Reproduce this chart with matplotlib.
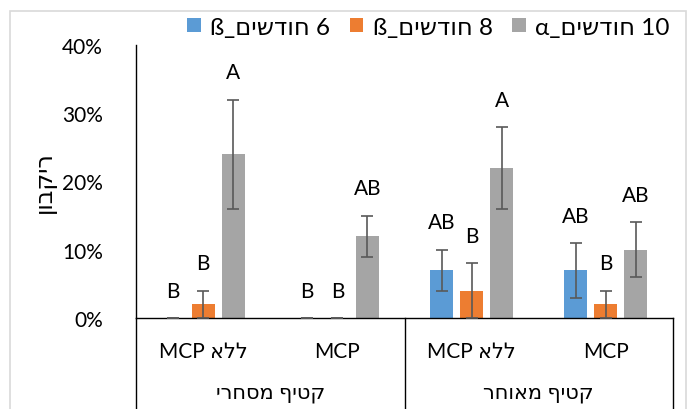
import numpy as np
import matplotlib
matplotlib.use("Agg")
import matplotlib.pyplot as plt
from matplotlib.patches import Rectangle
from matplotlib.lines import Line2D
import matplotlib.transforms as mtransforms

plt.rcParams['font.family'] = ['Lato', 'DejaVu Sans']

# Hebrew strings are stored in visual (left-to-right) order
categories = ["MCP אלל", "MCP", "MCP אלל", "MCP"]
groups = ["ירחסמ ףיטק", "רחואמ ףיטק"]
series_names = ["ß_םישדוח 6", "ß_םישדוח 8", "α_םישדוח 10"]

val_6b = [0.00, 0.00, 0.07, 0.07]
err_6b = [0.00, 0.00, 0.03, 0.04]
val_8b = [0.02, 0.00, 0.04, 0.02]
err_8b = [0.02, 0.00, 0.04, 0.02]
val_10a = [0.24, 0.12, 0.22, 0.10]
err_10a = [0.08, 0.03, 0.06, 0.04]

letters_6b = ["B", "B", "AB", "AB"]
letters_8b = ["B", "B", "B", "B"]
letters_10a = ["A", "AB", "A", "AB"]

y_ticks = [0, 0.1, 0.2, 0.3, 0.4]
y_label = "ןובקיר"

colors = ['#5B9BD5', '#ED7D31', '#A5A5A5']

fig = plt.figure(figsize=(6.9, 4.1), dpi=100)
ax = fig.add_axes([136/690, 1 - 319/410, (673 - 136)/690, (319 - 46)/410])

x = np.arange(len(categories))
step = 0.224
width = 0.172
series = [(val_6b, err_6b, letters_6b), (val_8b, err_8b, letters_8b), (val_10a, err_10a, letters_10a)]
for i, (vals, errs, lets) in enumerate(series):
    xs = x + (i - 1) * step
    ax.bar(xs, vals, width, color=colors[i], label=series_names[i], zorder=2)
    ax.errorbar(xs, vals, yerr=errs, fmt='none', ecolor='#595959', elinewidth=1.2,
                capsize=4.3, capthick=1.2, zorder=3)
    for xx, v, e, l in zip(xs, vals, errs, lets):
        ax.text(xx, v + e + 0.04, l, ha='center', va='center', fontsize=15, color='black')

ax.set_xlim(-0.5, 3.5)
ax.set_ylim(0, 0.4)
ax.set_yticks(y_ticks)
ax.set_yticklabels([f"{int(round(t*100))}%" for t in y_ticks], fontsize=15)
ax.tick_params(axis='y', length=0, pad=24)
ax.set_xticks([])
for s in ['top', 'right']:
    ax.spines[s].set_visible(False)
ax.spines['left'].set_color('black')
ax.spines['bottom'].set_color('black')
ax.spines['left'].set_linewidth(1.0)
ax.spines['bottom'].set_linewidth(1.0)

ax.set_ylabel(y_label, fontsize=17, labelpad=4, family=['DejaVu Sans'])

# multi-level category axis
trans = mtransforms.blended_transform_factory(ax.transData, ax.transAxes)
for xx, c in zip(x, categories):
    ax.text(xx, -0.12, c, transform=trans, ha='center', va='center', fontsize=15)
for gi, g in enumerate(groups):
    ax.text(gi * 2 + 0.5, -0.27, g, transform=trans, ha='center', va='center', fontsize=15)
for xx in [-0.5, 1.5, 3.5]:
    ax.add_line(Line2D([xx, xx], [0, -0.4], transform=trans, color='black', lw=1.0, clip_on=False))

# legend
fig.legend(loc='center right', bbox_to_anchor=(682/690, 1 - 28/410), ncol=3, frameon=False,
           fontsize=17.5, handlelength=0.55, handleheight=0.55, handletextpad=0.4,
           columnspacing=0.8, borderpad=0)

# outer chart border
fig.add_artist(Rectangle((10/690, -0.1), (686 - 10)/690, 1.1 - 12/410, transform=fig.transFigure,
                         fill=False, edgecolor='#D9D9D9', lw=1.2))

fig.savefig("out.png", dpi=100)
